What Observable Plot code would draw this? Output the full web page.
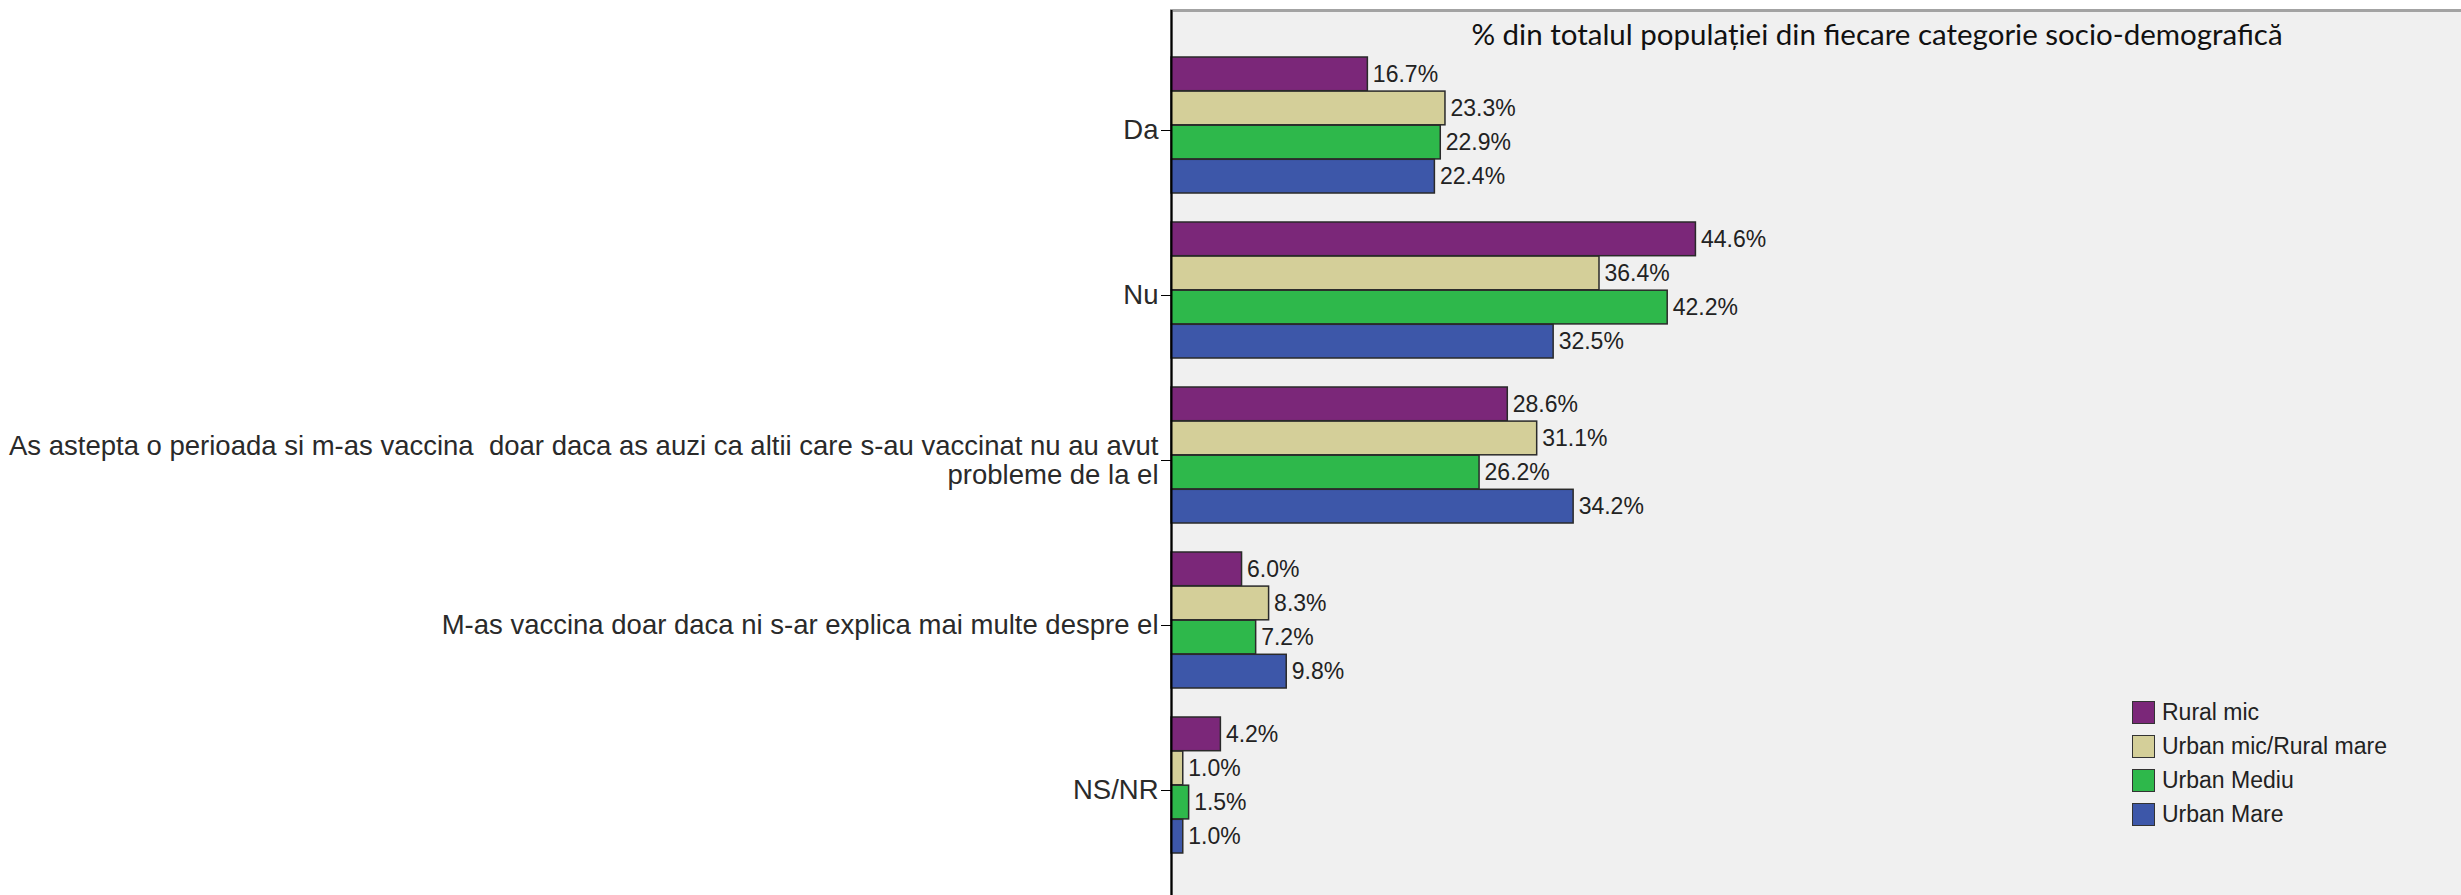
<!DOCTYPE html>
<html><head><meta charset="utf-8">
<script src="https://cdn.jsdelivr.net/npm/d3@7"></script>
<script src="https://cdn.jsdelivr.net/npm/@observablehq/plot@0.6"></script>
<style>
html,body{margin:0;padding:0;background:#fff;overflow:hidden;width:2461px;height:895px}
#wrap{position:relative;width:2461px;height:895px;overflow:hidden}
#chart svg{max-width:none !important;display:block}
#legend{position:absolute;left:2132px;top:695px;font-family:"Liberation Sans",Arial,sans-serif;font-size:23px;color:#222}
.row{display:flex;align-items:center;height:34px}
.sw{width:21px;height:21px;border:1.5px solid #333;margin-right:7px;box-sizing:content-box}
</style></head><body><div id="wrap"><div id="chart"></div><div id="legend"></div></div>
<script>
const answers = [
  "Da",
  "Nu",
  "As astepta o perioada si m-as vaccina  doar daca as auzi ca altii care s-au vaccinat nu au avut\nprobleme de la el",
  "M-as vaccina doar daca ni s-ar explica mai multe despre el",
  "NS/NR"
];
const series = ["Rural mic", "Urban mic/Rural mare", "Urban Mediu", "Urban Mare"];
const colors = ["#7b2779", "#d4cf99", "#2eb84b", "#3d57a9"];
const ruralMic = [16.7, 44.6, 28.6, 6.0, 4.2];
const urbanMicRuralMare = [23.3, 36.4, 31.1, 8.3, 1.0];
const urbanMediu = [22.9, 42.2, 26.2, 7.2, 1.5];
const urbanMare = [22.4, 32.5, 34.2, 9.8, 1.0];
const title = "% din totalul populației din fiecare categorie socio-demografică";

const values = [ruralMic, urbanMicRuralMare, urbanMediu, urbanMare];
const rows = [];
series.forEach((s, k) => answers.forEach((a, i) => rows.push({answer: a, series: s, k, value: values[k][i]})));

const W = 2590, H = 900, mT = 10, mB = 0;
const pInner = 0.178, pOuter = 0.271;
const step = (H - mT - mB) / (answers.length - pInner + 2 * pOuter);
const q = step * (1 - pInner) / series.length;

const font = '"Liberation Sans", Arial, sans-serif';
const marks = [
  Plot.frame({fill: "#f0f0f0", stroke: "#a3a3a3", strokeWidth: 3}),
  Plot.text([title], {frameAnchor: "top", lineAnchor: "middle", dy: 25, text: d => d, fontSize: 29.5, fontFamily: "Lato", fill: "#111"})
];
series.forEach((s, k) => {
  const d = rows.filter(r => r.k === k);
  marks.push(Plot.barX(d, {y: "answer", x: "value", fill: colors[k], stroke: "#2a2a2a", strokeWidth: 1.5,
    insetTop: k * q, insetBottom: (series.length - 1 - k) * q}));
  marks.push(Plot.text(d, {y: "answer", x: "value", text: r => r.value.toFixed(1) + "%", textAnchor: "start",
    dx: 5, dy: (k - (series.length - 1) / 2) * q, fill: "#222", fontSize: 23}));
});
marks.push(Plot.ruleX([0], {stroke: "#000", strokeWidth: 2}));
marks.push(Plot.axisY({tickSize: 10, tickPadding: 3, fontSize: 27.5, lineHeight: 1.02, dy: 5, label: null, stroke: "#000", fill: "#2a2a2a"}));

const chart = Plot.plot({
  width: W, height: H,
  marginLeft: 1171, marginRight: 8, marginTop: mT, marginBottom: mB,
  style: {fontFamily: font, background: "transparent", overflow: "visible", maxWidth: "none"},
  x: {domain: [0, 120], axis: null},
  y: {domain: answers, paddingInner: pInner, paddingOuter: pOuter, axis: null},
  marks
});
document.getElementById("chart").appendChild(chart);

const lg = document.getElementById("legend");
series.forEach((s, k) => {
  const r = document.createElement("div"); r.className = "row";
  const sw = document.createElement("div"); sw.className = "sw"; sw.style.background = colors[k];
  const t = document.createElement("span"); t.textContent = s;
  r.appendChild(sw); r.appendChild(t); lg.appendChild(r);
});
</script></body></html>
